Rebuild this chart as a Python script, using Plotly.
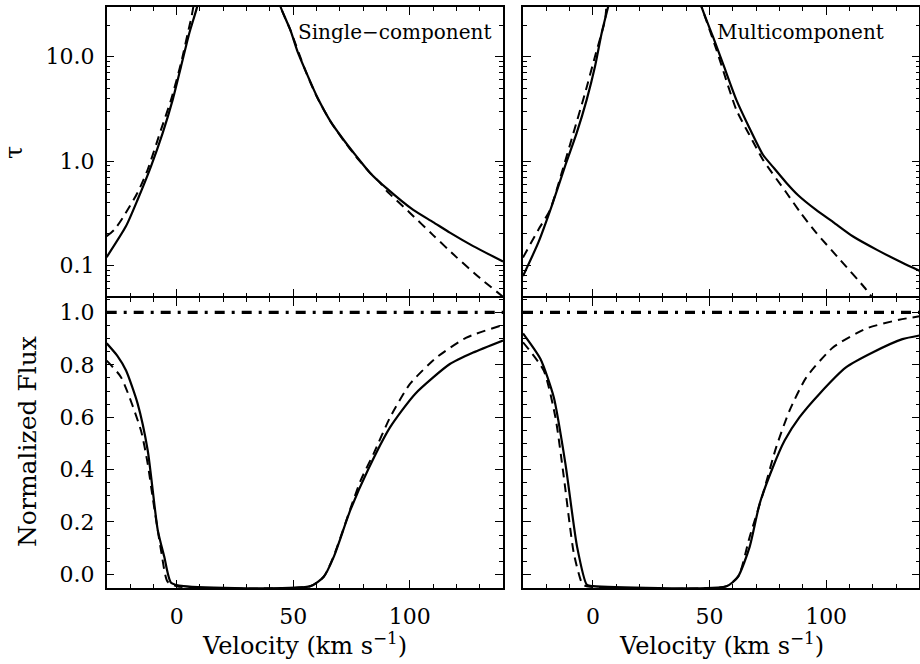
import plotly.graph_objects as go

# ---------------- data ----------------
# Top-left (Single-component): optical depth tau vs velocity
sc_tau_fit_v = [-30, -21.7, -16.7, -11.0, -6.0, -1.7, 1.84, 5.4, 8.7, 11.0,
                42.0, 44.6, 48.8, 52.0, 55.0, 60.2, 66.0, 71.6, 77.0, 83.0, 90.0,
                101.5, 110.0, 117.2, 127.2, 140.0]
sc_tau_fit = [0.12, 0.238, 0.428, 0.89, 1.85, 3.86, 8.0, 16.7, 29.6, 50,
              50, 30, 18, 11.0, 7.6, 4.15, 2.4, 1.6, 1.12, 0.77, 0.55,
              0.34, 0.26, 0.206, 0.153, 0.109]
sc_tau_true_v = [-30, -26.7, -23.1, -16.7, -12.4, -6.7, -2.4, 1.84, 6.0, 10.5,
                 42.0, 44.6, 48.8, 55.0, 60.2, 66.0, 71.6, 77.0, 83.0, 87.3, 90.0,
                 100.0, 110.0, 120.0, 130.0, 140.0]
sc_tau_true = [0.19, 0.22, 0.286, 0.50, 0.83, 2.0, 3.86, 8.6, 22, 50,
               50, 30, 18, 7.6, 4.1, 2.4, 1.58, 1.1, 0.77, 0.62, 0.52,
               0.32, 0.195, 0.12, 0.076, 0.05]

# Top-right (Multicomponent)
mc_tau_fit_v = [-30, -23.4, -17.7, -12.0, -7.0, -2.7, 0.85, 3.7, 6.5, 9.0,
                44.0, 46.6, 51.5, 56.0, 61.5, 67.0, 72.9, 77.0, 82.9, 88.0,
                95.7, 103.0, 111.4, 122.0, 132.7, 140.0]
mc_tau_fit = [0.079, 0.166, 0.37, 0.89, 1.85, 3.86, 8.0, 16.7, 30, 50,
              50, 30, 15.5, 8.3, 3.86, 2.1, 1.15, 0.89, 0.62, 0.47,
              0.34, 0.26, 0.19, 0.14, 0.106, 0.089]
mc_tau_true_v = [-30, -23.4, -18.4, -13.4, -8.4, -3.4, 0.85, 5.1, 8.0,
                 43.0, 46.6, 53.0, 61.5, 67.0, 72.9, 82.9, 89.0, 95.7, 106.0, 117.1, 121.0]
mc_tau_true = [0.119, 0.22, 0.34, 0.77, 1.85, 4.47, 10.0, 22, 50,
               50, 30, 11.6, 3.1, 1.8, 1.03, 0.50, 0.32, 0.206, 0.113, 0.059, 0.045]

# Bottom-left (Single-component): normalized flux
sc_flux_fit_v = [-30, -25.5, -21.7, -16.7, -12.4, -8.1, -5.3, -2.4, 3.0,
                 57.4, 63.1, 67.4, 74.5, 82.3, 91.6, 102.3, 117.2, 127.2, 140.0]
sc_flux_fit = [0.882, 0.835, 0.778, 0.651, 0.473, 0.169, 0.067, -0.032, -0.045,
               -0.045, -0.009, 0.067, 0.245, 0.403, 0.562, 0.689, 0.803, 0.847, 0.893]
sc_flux_true_v = [-30, -23.8, -15.3, -12.4, -10.3, -6.7, -3.9, 0.0,
                  57.4, 63.1, 67.4, 74.5, 79.0, 84.5, 91.6, 100.1, 111.5, 124.3, 140.0]
sc_flux_true = [0.816, 0.752, 0.549, 0.422, 0.295, 0.092, -0.028, -0.045,
                -0.045, -0.009, 0.07, 0.25, 0.36, 0.461, 0.60, 0.727, 0.828, 0.904, 0.952]

# Bottom-right (Multicomponent)
mc_flux_fit_v = [-30, -22.5, -16.8, -11.8, -6.8, -2.6, 0.0,
                 57.3, 62.2, 67.2, 71.5, 77.2, 82.2, 88.6, 97.1, 108.5, 119.9, 132.7, 140.0]
mc_flux_fit = [0.92, 0.822, 0.676, 0.422, 0.105, -0.04, -0.045,
               -0.045, -0.009, 0.105, 0.27, 0.41, 0.511, 0.60, 0.689, 0.79, 0.847, 0.898, 0.912]
mc_flux_true_v = [-30, -21.1, -16.1, -12.5, -8.2, -4.7, -3.0,
                  57.3, 62.5, 67.2, 72.9, 78.6, 84.3, 91.5, 102.9, 117.1, 131.3, 140.0]
mc_flux_true = [0.886, 0.778, 0.60, 0.372, 0.08, -0.034, -0.045,
                -0.045, -0.005, 0.143, 0.308, 0.486, 0.625, 0.752, 0.866, 0.938, 0.972, 0.985]

continuum_v = [-30, 140]
continuum = [1.0, 1.0]

panel_labels = ["Single\u2212component", "Multicomponent"]
x_tickvals = [0, 50, 100]
tau_tickvals = [0.1, 1.0, 10.0]
tau_ticktext = ["0.1", "1.0", "10.0"]
tau_minor = [0.05, 0.06, 0.07, 0.08, 0.09, 0.2, 0.3, 0.4, 0.5, 0.6, 0.7, 0.8, 0.9,
             2, 3, 4, 5, 6, 7, 8, 9, 20, 30]

# ---------------- figure ----------------
FONT = "DejaVu Serif"
W, H = 920, 664
xl = [106.7 / W, 503.0 / W]
xr = [523.0 / W, 919.4 / W]
yt = [(H - 296.25) / H, (H - 7.0) / H]
yb = [(H - 588.0) / H, (H - 297.75) / H]

fig = go.Figure()

solid = dict(color="black", width=2.2)
dashed = dict(color="black", width=2.0, dash="9px,6px")
dashdot = dict(color="black", width=3.2, dash="10px,7px,3px,7px")

def add(xv, yv, line, xa, ya):
    fig.add_trace(go.Scatter(x=xv, y=yv, mode="lines", line=dict(shape="spline", smoothing=0.6, **line),
                             xaxis=xa, yaxis=ya, showlegend=False, hoverinfo="skip"))

add(sc_tau_true_v, sc_tau_true, dashed, "x", "y")
add(sc_tau_fit_v, sc_tau_fit, solid, "x", "y")
add(mc_tau_true_v, mc_tau_true, dashed, "x2", "y2")
add(mc_tau_fit_v, mc_tau_fit, solid, "x2", "y2")
add(sc_flux_true_v, sc_flux_true, dashed, "x3", "y3")
add(sc_flux_fit_v, sc_flux_fit, solid, "x3", "y3")
add(continuum_v, continuum, dashdot, "x3", "y3")
add(mc_flux_true_v, mc_flux_true, dashed, "x4", "y4")
add(mc_flux_fit_v, mc_flux_fit, solid, "x4", "y4")
add(continuum_v, continuum, dashdot, "x4", "y4")

common = dict(showline=True, linecolor="black", linewidth=1.5, mirror="allticks",
              ticks="inside", ticklen=8, tickwidth=1.3, tickcolor="black",
              showgrid=False, zeroline=False,
              tickfont=dict(family=FONT, size=22, color="black"))

xcommon = dict(common, range=[-30, 140], tickmode="array", tickvals=x_tickvals,
               minor=dict(ticks="inside", dtick=10, tick0=0, ticklen=4, tickwidth=1.2,
                          tickcolor="black", showgrid=False),
               ticklabelstandoff=8)
ylog = dict(common, type="log", range=[-1.296, 1.477], tickmode="array",
            tickvals=tau_tickvals, ticktext=tau_ticktext,
            minor=dict(ticks="inside", tickmode="array", tickvals=tau_minor, ticklen=4,
                       tickwidth=1.2, tickcolor="black", showgrid=False),
            ticklabelstandoff=6)
ylin = dict(common, range=[-0.052, 1.056], dtick=0.2, tick0=0, tickformat=".1f",
            minor=dict(ticks="inside", dtick=0.05, tick0=0, ticklen=4, tickwidth=1.2,
                       tickcolor="black", showgrid=False),
            ticklabelstandoff=6)

fig.update_layout(
    width=W, height=H, margin=dict(l=0, r=0, t=0, b=0),
    paper_bgcolor="white", plot_bgcolor="white",
    font=dict(family=FONT, color="black"),
    xaxis=dict(xcommon, domain=xl, anchor="y", showticklabels=False),
    yaxis=dict(ylog, domain=yt, anchor="x"),
    xaxis2=dict(xcommon, domain=xr, anchor="y2", showticklabels=False),
    yaxis2=dict(ylog, domain=yt, anchor="x2", showticklabels=False),
    xaxis3=dict(xcommon, domain=xl, anchor="y3"),
    yaxis3=dict(ylin, domain=yb, anchor="x3"),
    xaxis4=dict(xcommon, domain=xr, anchor="y4"),
    yaxis4=dict(ylin, domain=yb, anchor="x4", showticklabels=False),
)

ann = [
    dict(text=panel_labels[0], xref="x domain", yref="y domain", x=0.976, y=0.914,
         xanchor="right", yanchor="middle", showarrow=False, font=dict(size=20)),
    dict(text=panel_labels[1], xref="x2 domain", yref="y2 domain", x=0.484, y=0.914,
         xanchor="left", yanchor="middle", showarrow=False, font=dict(size=20)),
    dict(text="Velocity (km s<sup>\u22121</sup>)", xref="paper", yref="paper",
         x=(xl[0] + xl[1]) / 2, y=(H - 644) / H, xanchor="center", yanchor="middle",
         showarrow=False, font=dict(size=24)),
    dict(text="Velocity (km s<sup>\u22121</sup>)", xref="paper", yref="paper",
         x=(xr[0] + xr[1]) / 2, y=(H - 644) / H, xanchor="center", yanchor="middle",
         showarrow=False, font=dict(size=24)),
    dict(text="Normalized Flux", xref="paper", yref="paper", x=27 / W, y=(H - 442) / H,
         xanchor="center", yanchor="middle", textangle=-90, showarrow=False,
         font=dict(size=25)),
    dict(text="\u03c4", xref="paper", yref="paper", x=14 / W, y=(H - 153) / H,
         xanchor="center", yanchor="middle", textangle=-90, showarrow=False,
         font=dict(size=24)),
]
fig.update_layout(annotations=ann)

fig.write_html("out.html")
